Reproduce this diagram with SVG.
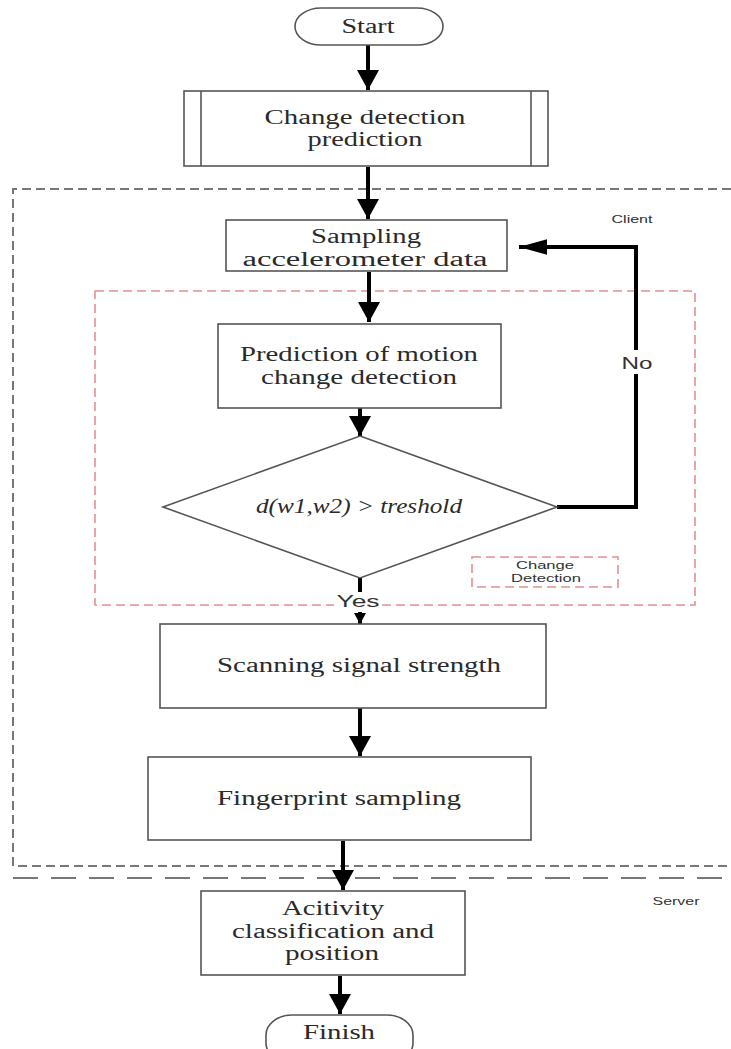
<svg xmlns="http://www.w3.org/2000/svg" width="731" height="1049" viewBox="0 0 731 1049">
  <style>
    .box { fill: #fff; stroke: #555; stroke-width: 1.6; }
    .serif { font-family: "Liberation Serif", "Times New Roman", serif; font-size: 20px; fill: #2a2a2a; text-anchor: middle; }
    .sans { font-family: "Liberation Sans", Arial, sans-serif; fill: #333; text-anchor: middle; }
    .flow { fill: none; stroke: #000; stroke-width: 4; }
    .zone { fill: none; stroke: #777; stroke-width: 2; stroke-dasharray: 9 5; }
    .sub { fill: none; stroke: #e39090; stroke-width: 1.6; stroke-dasharray: 9 5; }
  </style>
  <defs>
    <marker id="headV" markerUnits="userSpaceOnUse" markerWidth="22" markerHeight="22" viewBox="0 0 20 22" refX="20" refY="11" orient="auto">
      <path d="M0,0 L20,11 L0,22 z" fill="#000"/>
    </marker>
    <marker id="headH" markerUnits="userSpaceOnUse" markerWidth="28" markerHeight="16" viewBox="0 0 27 15" refX="27" refY="7.5" orient="auto">
      <path d="M0,0 L27,7.5 L0,15 z" fill="#000"/>
    </marker>
    <marker id="headS" markerUnits="userSpaceOnUse" markerWidth="12" markerHeight="12" viewBox="0 0 11 12" refX="11" refY="6" orient="auto">
      <path d="M0,0 L11,6 L0,12 z" fill="#000"/>
    </marker>
  </defs>

  <rect width="731" height="1049" fill="#fff"/>

  <!-- zones: client area, change-detection block, server separator -->
  <g id="zones">
    <path class="zone" d="M731,189 H13 V866 H731"/>
    <line x1="13" y1="878" x2="731" y2="878" stroke="#777" stroke-width="2" stroke-dasharray="25 13"/>
    <rect class="sub" x="95" y="291" width="600" height="314"/>
    <rect class="sub" x="472" y="557" width="146" height="30"/>
    <text class="sans" x="632" y="223" font-size="11" textLength="41" lengthAdjust="spacingAndGlyphs">Client</text>
    <text class="sans" x="676" y="905" font-size="11" textLength="47" lengthAdjust="spacingAndGlyphs">Server</text>
    <text class="sans" x="545" y="569" font-size="11" textLength="58" lengthAdjust="spacingAndGlyphs">Change</text>
    <text class="sans" x="546" y="582" font-size="11" textLength="70" lengthAdjust="spacingAndGlyphs">Detection</text>
  </g>

  <!-- connectors -->
  <g id="connectors">
    <line class="flow" x1="368" y1="45" x2="368" y2="90" marker-end="url(#headV)"/>
    <line class="flow" x1="368" y1="167" x2="368" y2="219" marker-end="url(#headV)"/>
    <line class="flow" x1="369" y1="272" x2="369" y2="322" marker-end="url(#headV)"/>
    <line class="flow" x1="360" y1="408" x2="360" y2="436" marker-end="url(#headV)"/>
    <path class="flow" stroke-width="3.5" d="M557,507 H636 V247 H519" marker-end="url(#headH)"/>
    <line class="flow" x1="360" y1="578" x2="360" y2="592"/>
    <line class="flow" stroke-width="1" x1="360" y1="612" x2="360" y2="624" marker-end="url(#headS)"/>
    <line class="flow" x1="360" y1="708" x2="360" y2="756" marker-end="url(#headV)"/>
    <line class="flow" x1="343" y1="841" x2="343" y2="890" marker-end="url(#headV)"/>
    <line class="flow" x1="340" y1="976" x2="340" y2="1014" marker-end="url(#headV)"/>
    <g id="label-no">
      <rect x="619" y="350" width="34" height="24" fill="#fff"/>
      <text class="sans" x="637" y="369" font-size="17" fill="#111" textLength="31" lengthAdjust="spacingAndGlyphs">No</text>
    </g>
    <g id="label-yes">
      <rect x="334" y="594" width="48" height="17" fill="#fff"/>
      <text class="sans" x="358" y="607" font-size="17" fill="#111" textLength="43" lengthAdjust="spacingAndGlyphs">Yes</text>
    </g>
  </g>

  <g id="start">
    <rect class="box" x="295" y="8" width="148" height="37" rx="26" ry="18.5"/>
    <text class="serif" x="368" y="33" textLength="53" lengthAdjust="spacingAndGlyphs">Start</text>
  </g>

  <g id="change-detection-prediction">
    <rect class="box" x="184" y="91" width="364" height="75"/>
    <line x1="201" y1="91" x2="201" y2="166" stroke="#555" stroke-width="1.6"/>
    <line x1="531" y1="91" x2="531" y2="166" stroke="#555" stroke-width="1.6"/>
    <text class="serif" x="365" y="124" textLength="201" lengthAdjust="spacingAndGlyphs">Change detection</text>
    <text class="serif" x="365" y="146" textLength="115" lengthAdjust="spacingAndGlyphs">prediction</text>
  </g>

  <g id="sampling">
    <rect class="box" x="226" y="220" width="281" height="51"/>
    <text class="serif" x="366" y="243" textLength="110" lengthAdjust="spacingAndGlyphs">Sampling</text>
    <text class="serif" x="365" y="266" textLength="245" lengthAdjust="spacingAndGlyphs">accelerometer data</text>
  </g>

  <g id="prediction">
    <rect class="box" x="218" y="324" width="283" height="84"/>
    <text class="serif" x="359" y="361" textLength="238" lengthAdjust="spacingAndGlyphs">Prediction of motion</text>
    <text class="serif" x="359" y="384" textLength="196" lengthAdjust="spacingAndGlyphs">change detection</text>
  </g>

  <g id="threshold-decision">
    <polygon class="box" points="360,436 557,507 360,578 163,507"/>
    <text class="serif" x="359" y="513" font-style="italic" textLength="206" lengthAdjust="spacingAndGlyphs">d(w1,w2) &gt; treshold</text>
  </g>

  <g id="scanning">
    <rect class="box" x="160" y="624" width="386" height="84"/>
    <text class="serif" x="359" y="672" textLength="284" lengthAdjust="spacingAndGlyphs">Scanning signal strength</text>
  </g>

  <g id="fingerprint">
    <rect class="box" x="148" y="757" width="383" height="83"/>
    <text class="serif" x="339" y="805" textLength="244" lengthAdjust="spacingAndGlyphs">Fingerprint sampling</text>
  </g>

  <g id="classification">
    <rect class="box" x="201" y="891" width="264" height="84"/>
    <text class="serif" x="333" y="915" textLength="102" lengthAdjust="spacingAndGlyphs">Acitivity</text>
    <text class="serif" x="333" y="938" textLength="202" lengthAdjust="spacingAndGlyphs">classification and</text>
    <text class="serif" x="332" y="960" textLength="94" lengthAdjust="spacingAndGlyphs">position</text>
  </g>

  <g id="finish">
    <rect class="box" x="266" y="1015" width="147" height="48" rx="26" ry="20"/>
    <text class="serif" x="339" y="1039" textLength="72" lengthAdjust="spacingAndGlyphs">Finish</text>
  </g>
</svg>
